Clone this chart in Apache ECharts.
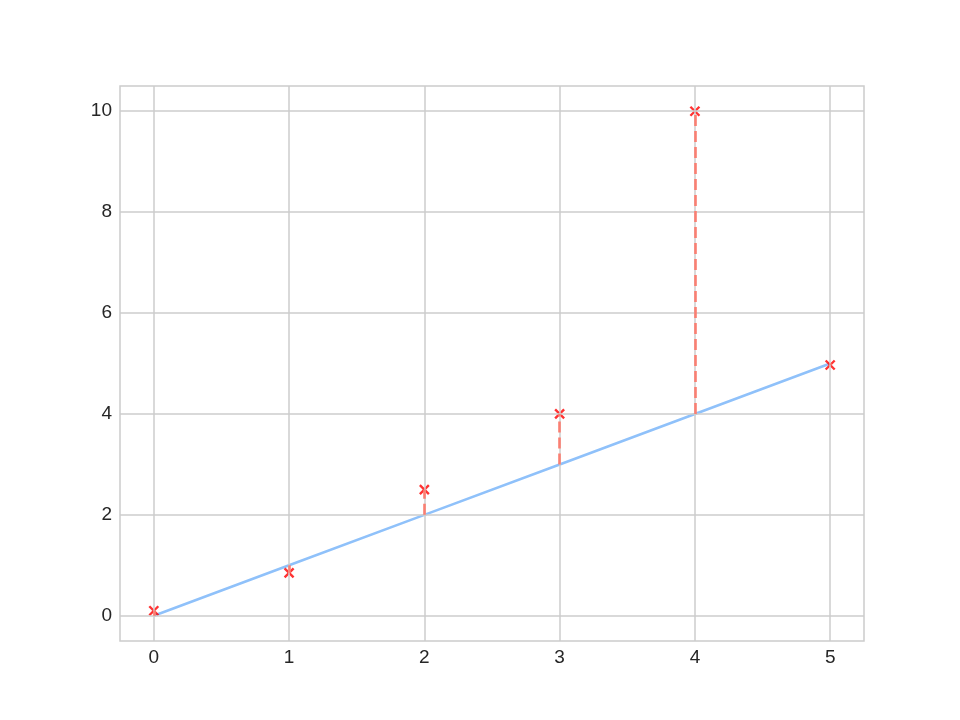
<!DOCTYPE html>
<html><head><meta charset="utf-8">
<script src="https://cdn.jsdelivr.net/npm/echarts@6/dist/echarts.min.js"></script>
<style>html,body{margin:0;padding:0;background:#fff}#c{width:960px;height:720px}</style>
</head><body><div id="c"></div>
<script>
const xValues = [0, 1, 2, 3, 4, 5];
const yObserved = [0.1, 0.85, 2.5, 4.0, 10.0, 4.97];
const yFitted = [0, 1, 2, 3, 4, 5];
const xTicks = [0, 1, 2, 3, 4, 5];
const yTicks = [0, 2, 4, 6, 8, 10];

const gridColor = '#cccccc';
const gridLines = [];
xTicks.forEach(v => gridLines.push({xAxis: v}));
yTicks.forEach(v => gridLines.push({yAxis: v}));

const residuals = xValues.map((x, i) => [
  {coord: [x, yFitted[i]]},
  {coord: [x, yObserved[i]]}
]);

const labelStyle = {color: '#262626', fontFamily: 'Liberation Sans, Arial, sans-serif', fontSize: 19};

const chart = echarts.init(document.getElementById('c'), null, {renderer: 'canvas'});
chart.setOption({
  animation: false,
  grid: {left: 120, right: 96, top: 86, bottom: 79, show: true, borderColor: gridColor, borderWidth: 1.5, backgroundColor: 'transparent'},
  xAxis: {
    type: 'value', min: -0.25, max: 5.25,
    axisLine: {show: false}, axisTick: {show: false}, splitLine: {show: false},
    axisLabel: Object.assign({customValues: xTicks, margin: 7}, labelStyle)
  },
  yAxis: {
    type: 'value', min: -0.5, max: 10.5,
    axisLine: {show: false}, axisTick: {show: false}, splitLine: {show: false},
    axisLabel: Object.assign({customValues: yTicks, margin: 8}, labelStyle)
  },
  series: [
    {
      type: 'line', data: [], silent: true,
      markLine: {silent: true, symbol: 'none', label: {show: false},
        lineStyle: {color: gridColor, width: 1.5, type: 'solid'}, data: gridLines, animation: false},
      z: 1
    },
    {
      type: 'line', data: xValues.map((x, i) => [x, yFitted[i]]),
      showSymbol: false, symbol: 'none',
      lineStyle: {color: '#8fc1fa', width: 2.6}, z: 2
    },
    {
      type: 'line', data: [], silent: true,
      markLine: {silent: true, symbol: 'none', label: {show: false},
        lineStyle: {color: '#fa7f72', width: 2.6, type: [11, 5]}, data: residuals, animation: false},
      z: 3
    },
    {
      type: 'scatter', data: xValues.map((x, i) => [x, yObserved[i]]),
      symbol: 'path://M0,0L10,10M10,0L0,10', symbolSize: 9,
      itemStyle: {color: 'none', borderColor: '#ff0000', borderWidth: 2.4},
      z: 4
    }
  ]
});
</script></body></html>
